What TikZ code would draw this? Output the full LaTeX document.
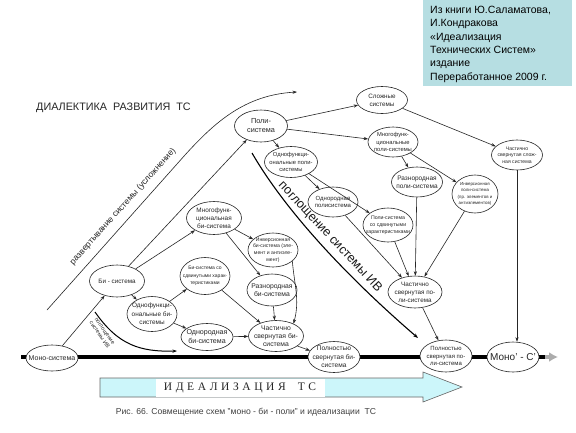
\documentclass[tikz,border=0pt]{standalone}
\usepackage{fontspec}
\setmainfont{Liberation Sans}
\newfontfamily\serifcyr{Liberation Serif}
\usetikzlibrary{arrows.meta,shapes.geometric}
\definecolor{boxteal}{HTML}{B6DEE2}
\definecolor{idcyan}{HTML}{CCF6FA}
\newcommand\elnode[6][]{\node[el,minimum width=#4pt,minimum height=#5pt,label={[lab,#1]center:{#6}}] (#2) at (#3) {};}
\begin{document}
\begin{tikzpicture}[x=1pt,y=-1pt,
  el/.style={ellipse,draw=black!85,line width=0.6pt,fill=white,inner sep=0pt},
  lab/.style={font=\fontsize{7}{8.5}\selectfont,align=center,inner sep=0pt,text=black!85},
  fs/.style args={#1/#2}{font=\fontsize{#1}{#2}\selectfont},
  ar/.style={draw=black!85,line width=0.6pt,-{Stealth[length=4.5pt,width=3.2pt]}},
]
\fill[white] (0,0) rectangle (576,432);
\useasboundingbox (0,0) rectangle (576,432);

% info box
\fill[boxteal] (423,0) rectangle (572,86);
\node[anchor=north west,align=left,inner sep=0pt,fs=10.5/13.3] (info) at (430,6)
 {Из книги Ю.Саламатова,\\И.Кондракова\\«Идеализация\\Технических Систем»\\издание\\Переработанное 2009 г.};

% title
\node[anchor=west,inner sep=0pt,fs=10.8/12,text=black!85] (title) at (36,108) {ДИАЛЕКТИКА\ \ РАЗВИТИЯ\ \ ТС};

% thick axis
\draw[line width=4pt,black] (21,357) -- (546,357);
\draw[line width=4pt,gray!65,-{Latex[length=9pt,width=10pt]}] (545,357) -- (558,357);

% idealization arrow
\draw[draw=gray!80!black,line width=0.6pt,fill=idcyan] (100,378) -- (423,378) -- (423,372) -- (462,387) -- (423,402) -- (423,397) -- (100,397) -- cycle;
\fill[white] (156,379) rectangle (325,396.5);
\node[inner sep=0pt,font=\serifcyr\fontsize{11.5}{12}\selectfont,text=black!85] (ideal) at (240,388) {И\hspace{3.6pt}Д\hspace{3.6pt}Е\hspace{3.6pt}А\hspace{3.6pt}Л\hspace{3.6pt}И\hspace{3.6pt}З\hspace{3.6pt}А\hspace{3.6pt}Ц\hspace{3.6pt}И\hspace{3.6pt}Я\hspace{12pt}Т\hspace{3.6pt}С};

% caption
\node[inner sep=0pt,fs=8.6/9,text=black!75] (cap) at (246,412) {Рис. 66. Совмещение схем "моно - би - поли" и идеализации\ \ ТС};

% nodes
\elnode{mono}{52,358}{52}{26}{Моно-система}
\elnode[fs=6.3/7.7]{bi}{117,281}{55}{32}{Би - система}
\elnode[fs=6.4/8.6]{ofbi}{152,314}{50}{35}{Однофункци-\\ональные би-\\системы}
\elnode[fs=7.1/9]{odbi}{207,337}{52}{27}{Однородная\\би-система}
\elnode[fs=5/7.5]{sdbi}{205,276}{50}{37}{Би-система со\\сдвинутыми харак-\\теристиками}
\elnode[fs=6.8/8.5]{rzbi}{272,290}{50}{32}{Разнородная\\би-система}
\elnode[fs=5.1/6.6]{invbi}{273,250}{50}{34}{Инверсионная\\би-система (эле-\\мент и антиэле-\\мент)}
\elnode[fs=6.4/8]{mfbi}{214,218}{55}{33}{Многофунк-\\циональная\\би-система}
\elnode[fs=6.8/8.3]{chbi}{276,336}{55}{31}{Частично\\свернутая би-\\система}
\elnode[fs=6.6/8.3]{plbi}{334,357}{52}{31}{Полностью\\свернутая би-\\система}
\elnode[fs=7.3/9]{poli}{261,126}{53}{32}{Поли-\\система}
\elnode[fs=5.8/7.6]{ofpoli}{291,162}{53}{31}{Однофункци-\\ональные поли-\\системы}
\elnode[fs=6/7.8]{odpoli}{333,202}{50}{30}{Однородная\\полисистема}
\elnode[fs=5.2/7]{sdpoli}{388,225}{50}{34}{Поли-система\\со сдвинутыми\\характеристиками}
\elnode[fs=6.3/8]{slozh}{382,100}{51}{27}{Сложные\\системы}
\elnode[fs=5.8/7.6]{mfpoli}{393,142}{50}{30}{Многофунк-\\циональные\\поли-системы}
\elnode[fs=6.5/8.3]{rzpoli}{417,182}{51}{30}{Разнородная\\поли-система}
\elnode[fs=4.4/6.4]{invpoli}{475,194}{46}{38}{Инверсионная\\поли-система\\(пр. элементов и\\антиэлементов)}
\elnode[fs=6.3/8.1]{chpoli}{415,292}{54}{32}{Частично\\свернутая по-\\ли-система}
\elnode[fs=6/7.8]{plpoli}{446,356}{52}{32}{Полностью\\свернутая по-\\ли-система}
\elnode[fs=5.1/6.5]{chsl}{517,155}{51}{30}{Частично\\свернутая слож-\\ная система}
\elnode[fs=10/12]{monop}{513,357}{52}{30}{Моно' - С'}

% connectors
\draw[ar] (mono) -- (bi);
\draw[ar] (bi.52) -- (poli.224);
\draw[ar] (bi) -- (mfbi);
\draw[ar] (bi) -- (ofbi);
\draw[ar] (ofbi) -- (sdbi);
\draw[ar] (ofbi) -- (odbi);
\draw[ar] (odbi) -- (chbi);
\draw[ar] (sdbi) -- (chbi);
\draw[ar] (rzbi) -- (chbi);
\draw[ar] (mfbi) -- (invbi);
\draw[ar] (mfbi) -- (rzbi);
\draw[ar] (invbi.-30) to[out=-85,in=75] (chbi.35);
\draw[ar] (chbi.-25) -- (plbi.165);
\draw[ar] (poli) -- (slozh);
\draw[ar] (poli) -- (mfpoli);
\draw[ar] (poli) -- (ofpoli);
\draw[ar] (ofpoli) -- (odpoli);
\draw[ar] (ofpoli) -- (sdpoli);
\draw[ar] (mfpoli) -- (rzpoli);
\draw[ar] (mfpoli) -- (invpoli);
\draw[ar] (slozh) -- (chsl);
\draw[ar] (chsl.south) -- (chsl.south |- monop.north);
\draw[ar] (odpoli) -- (chpoli);
\draw[ar] (sdpoli) -- (chpoli);
\draw[ar] (rzpoli) -- (chpoli);
\draw[ar] (invpoli) -- (chpoli);
\draw[ar] (chpoli) -- (plpoli);

% development curve
\coordinate (razvS) at (47,310);
\coordinate (razvE) at (297,92);
\draw[ar] (razvS) -- (185,155) .. controls (215,122) and (245,95) .. (razvE);
\node[rotate=48,fs=8.6/9,inner sep=0pt,text=black!85] (razvT) at (123,206.5) {развертывание системы (усложнение)};

% absorption curve (big)
\coordinate (poglS) at (252,153);
\coordinate (poglE) at (418,338);
\draw[draw=black,line width=1.1pt,-{Stealth[length=5pt,width=3.6pt]}] (poglS) .. controls (285,210) and (345,275) .. (poglE);
\node[rotate=-47,fs=12.6/13,inner sep=0pt,text=black!90] (poglT) at (330,237) {поглощение системы ИВ};

% absorption curve (small)
\coordinate (pogl2S) at (95,312);
\coordinate (pogl2E) at (177,351);
\draw[draw=black,line width=1pt,-{Stealth[length=4.5pt,width=3.2pt]}] (pogl2S) .. controls (118,345) and (140,352) .. (pogl2E);
\node[rotate=-55,fs=5.5/6.3,align=center,inner sep=0pt,text=black!85] (pogl2T) at (102,333) {поглощение\\системы ИВ};
\end{tikzpicture}
\end{document}
